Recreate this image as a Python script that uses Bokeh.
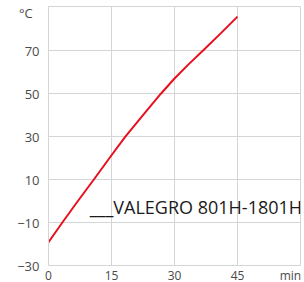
from bokeh.plotting import figure
from bokeh.models import FixedTicker
from bokeh.core.properties import value
from bokeh.embed import file_html
from bokeh.resources import INLINE

# data
time_min = [0, 3.3, 7.0, 10.8, 15, 18.3, 22.5, 26.7, 30, 33.4, 36.8, 41, 45]
temp_c = [-19.2, -10, 0, 10, 21.3, 30, 40, 49.8, 57.0, 63.7, 70, 78, 85.8]
x_ticks = [0, 15, 30, 45]
y_ticks = [-30, -10, 10, 30, 50, 70]
x_unit = "min"
y_unit = "°C"
series_name = "___VALEGRO 801H-1801H"

FONT = "Open Sans"
GRID = "#d4d6d6"
TXT = "#4a4a4a"

X_UNIT_POS = 57.6
Y_UNIT_POS = 87.5

p = figure(frame_width=252, frame_height=259, x_range=(0, 60), y_range=(-30, 90.5),
           output_backend="svg", toolbar_location=None,
           min_border_left=48, min_border_right=2, min_border_top=6, min_border_bottom=0)
p.outline_line_color = GRID
p.outline_line_width = 1

for ax in (p.xaxis, p.yaxis):
    ax.axis_line_color = GRID
    ax.major_tick_line_color = None
    ax.minor_tick_line_color = None
    ax.major_label_text_font = FONT
    ax.major_label_text_font_size = "13px"
    ax.major_label_text_color = TXT
    ax.major_label_standoff = 3
p.xaxis.ticker = FixedTicker(ticks=x_ticks + [X_UNIT_POS])
p.xaxis.major_label_overrides = {X_UNIT_POS: x_unit}
p.yaxis.ticker = FixedTicker(ticks=y_ticks + [Y_UNIT_POS])
p.yaxis.major_label_overrides = {Y_UNIT_POS: y_unit + "\u00a0\u00a0"}
p.xaxis.major_label_text_font_size = "12px"
p.xaxis.major_label_standoff = -5
p.xgrid.ticker = FixedTicker(ticks=x_ticks)
p.ygrid.ticker = FixedTicker(ticks=y_ticks)
p.xgrid.grid_line_color = GRID
p.ygrid.grid_line_color = GRID

p.line(time_min, temp_c, line_color="#e8101e", line_width=2)

p.text(x=[9.8], y=[-3.0], text=[series_name], text_font=value(FONT),
       text_font_size="18px", text_color="#1a1a1a", text_baseline="alphabetic")

open("out.html", "w").write(file_html(p, INLINE))
